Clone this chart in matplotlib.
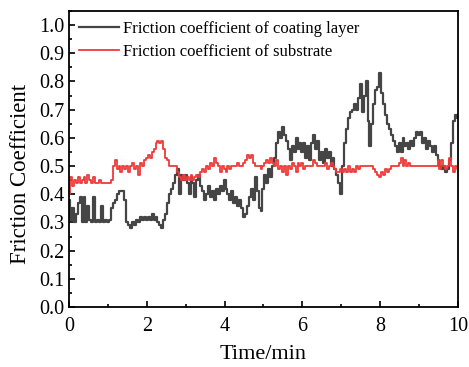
import numpy as np
import matplotlib
matplotlib.use("Agg")
import matplotlib.pyplot as plt
from matplotlib.ticker import MultipleLocator

plt.rcParams['font.family'] = 'Liberation Serif'

# time axis, one reading every 0.05 min
time_min = np.round(np.arange(0, 10.0001, 0.05), 2)

# friction coefficient of the coating layer (black curve)
coating = [
    0.38, 0.31, 0.35, 0.30, 0.33, 0.37, 0.39, 0.30, 0.39, 0.30, 0.36, 0.31, 0.30, 0.39, 0.30, 0.31, 0.30, 0.36, 0.30, 0.31,
    0.30, 0.31, 0.35, 0.37, 0.38, 0.40, 0.41, 0.41, 0.41, 0.38, 0.30, 0.29, 0.28, 0.30, 0.29, 0.31, 0.30, 0.32, 0.31, 0.32,
    0.31, 0.32, 0.31, 0.33, 0.31, 0.32, 0.30, 0.29, 0.28, 0.31, 0.33, 0.37, 0.40, 0.42, 0.44, 0.47, 0.49, 0.40, 0.47, 0.45,
    0.47, 0.44, 0.40, 0.46, 0.44, 0.39, 0.45, 0.47, 0.43, 0.41, 0.38, 0.40, 0.43, 0.39, 0.41, 0.38, 0.42, 0.40, 0.43, 0.41,
    0.45, 0.42, 0.40, 0.38, 0.41, 0.37, 0.39, 0.36, 0.38, 0.35, 0.32, 0.33, 0.36, 0.39, 0.42, 0.38, 0.46, 0.41, 0.35, 0.34,
    0.42, 0.47, 0.44, 0.49, 0.46, 0.50, 0.53, 0.58, 0.62, 0.60, 0.64, 0.61, 0.59, 0.56, 0.52, 0.57, 0.55, 0.60, 0.56, 0.58,
    0.55, 0.58, 0.53, 0.57, 0.52, 0.58, 0.61, 0.56, 0.59, 0.52, 0.55, 0.51, 0.56, 0.53, 0.55, 0.50, 0.53, 0.49, 0.47, 0.44,
    0.40, 0.50, 0.58, 0.63, 0.67, 0.69, 0.70, 0.72, 0.70, 0.74, 0.79, 0.69, 0.75, 0.80, 0.66, 0.57, 0.65, 0.72, 0.77, 0.78,
    0.83, 0.76, 0.72, 0.68, 0.65, 0.63, 0.61, 0.59, 0.57, 0.55, 0.58, 0.55, 0.60, 0.57, 0.58, 0.56, 0.59, 0.57, 0.60, 0.62,
    0.61, 0.62, 0.58, 0.60, 0.56, 0.59, 0.57, 0.55, 0.57, 0.54, 0.52, 0.50, 0.49, 0.50, 0.48, 0.49, 0.52, 0.58, 0.66, 0.68,
    0.67,
]

# friction coefficient of the substrate (red curve)
substrate = [
    0.40, 0.46, 0.43, 0.45, 0.44, 0.46, 0.44, 0.45, 0.46, 0.44, 0.47, 0.45, 0.44, 0.46, 0.44, 0.44, 0.45, 0.44, 0.44, 0.44,
    0.44, 0.44, 0.45, 0.50, 0.52, 0.49, 0.50, 0.48, 0.50, 0.49, 0.50, 0.48, 0.50, 0.51, 0.49, 0.50, 0.47, 0.51, 0.50, 0.52,
    0.53, 0.54, 0.53, 0.55, 0.56, 0.58, 0.59, 0.58, 0.59, 0.56, 0.53, 0.52, 0.50, 0.50, 0.50, 0.50, 0.48, 0.46, 0.45, 0.47,
    0.45, 0.46, 0.45, 0.47, 0.45, 0.46, 0.47, 0.46, 0.48, 0.49, 0.48, 0.50, 0.49, 0.51, 0.50, 0.53, 0.51, 0.50, 0.48, 0.50,
    0.49, 0.48, 0.50, 0.49, 0.50, 0.50, 0.50, 0.51, 0.50, 0.50, 0.51, 0.52, 0.54, 0.53, 0.54, 0.51, 0.50, 0.50, 0.50, 0.49,
    0.50, 0.51, 0.52, 0.51, 0.53, 0.51, 0.50, 0.52, 0.49, 0.50, 0.48, 0.50, 0.47, 0.50, 0.49, 0.51, 0.50, 0.48, 0.51, 0.50,
    0.51, 0.49, 0.50, 0.50, 0.50, 0.50, 0.52, 0.51, 0.50, 0.50, 0.50, 0.50, 0.51, 0.49, 0.50, 0.51, 0.50, 0.49, 0.48, 0.48,
    0.49, 0.48, 0.49, 0.48, 0.50, 0.48, 0.49, 0.48, 0.50, 0.49, 0.50, 0.50, 0.50, 0.50, 0.50, 0.50, 0.50, 0.49, 0.48, 0.47,
    0.46, 0.48, 0.47, 0.49, 0.48, 0.49, 0.50, 0.50, 0.50, 0.50, 0.51, 0.53, 0.50, 0.52, 0.50, 0.51, 0.50, 0.50, 0.50, 0.50,
    0.50, 0.50, 0.50, 0.50, 0.50, 0.50, 0.50, 0.50, 0.50, 0.50, 0.52, 0.49, 0.52, 0.50, 0.49, 0.50, 0.53, 0.50, 0.48, 0.50,
    0.49,
]

fig = plt.figure(figsize=(4.69, 3.67), dpi=100)
ax = fig.add_axes([0.147, 0.1635, 0.8295, 0.8065])

ax.plot(time_min, coating, color='#454545', lw=1.6, drawstyle='steps-mid',
        label='Friction coefficient of coating layer')
ax.plot(time_min, substrate, color='#ee3a3a', lw=1.3, drawstyle='steps-mid',
        label='Friction coefficient of substrate')

ax.set_xlim(0, 10)
ax.set_ylim(0, 1.05)
ax.xaxis.set_major_locator(MultipleLocator(2))
ax.xaxis.set_minor_locator(MultipleLocator(1))
ax.yaxis.set_minor_locator(MultipleLocator(0.05))
ax.set_yticks(np.arange(0, 1.01, 0.1))
ax.set_yticklabels([f'{v:.1f}' for v in np.arange(0, 1.01, 0.1)])
ax.tick_params(which='both', direction='in', labelsize=14.5, width=1.2)
ax.tick_params(which='major', length=4)
ax.tick_params(which='minor', length=2.5)
ax.tick_params(axis='y', pad=3)
ax.tick_params(axis='x', pad=7)
for s in ax.spines.values():
    s.set_linewidth(1.3)

ax.set_xlabel('Time/min', fontsize=16, labelpad=7)
ax.set_ylabel('Friction Coefficient', fontsize=16.5)
ax.yaxis.set_label_coords(-0.097, 0.45)

ax.legend(loc='upper left', frameon=False, fontsize=12, handlelength=2.4,
          handletextpad=0.25, borderaxespad=0.15, labelspacing=0.4,
          borderpad=0.45)

fig.savefig('out.png', dpi=100)
